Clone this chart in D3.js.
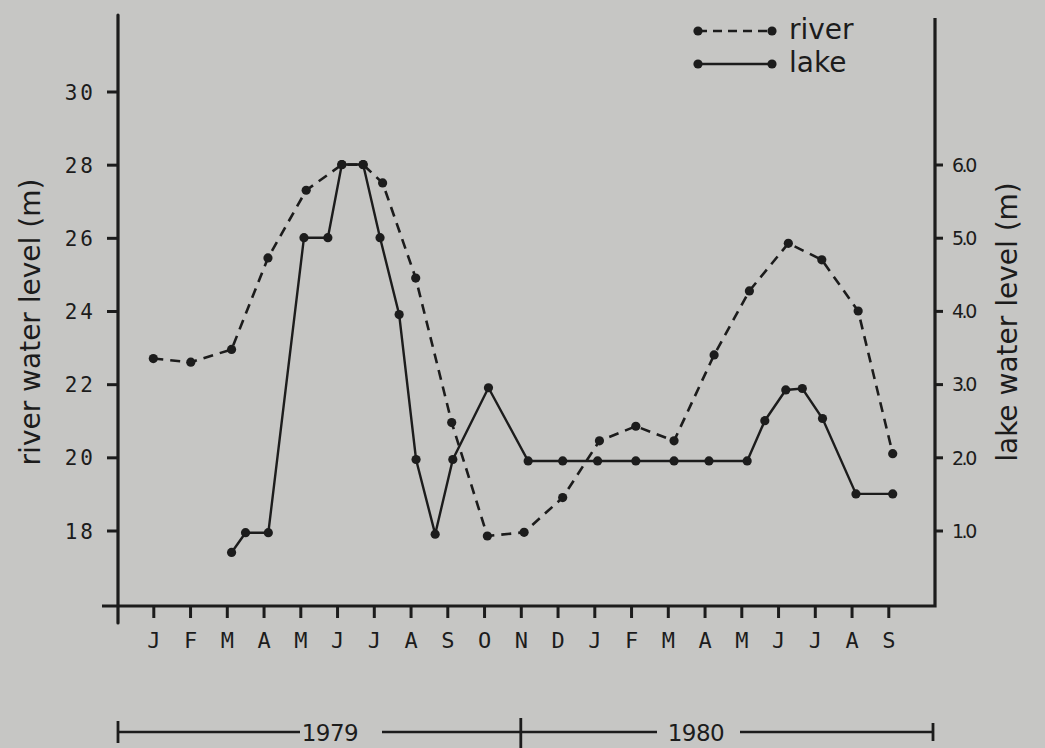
<!DOCTYPE html>
<html>
<head>
<meta charset="utf-8">
<script src="https://cdn.jsdelivr.net/npm/d3@7"></script>
<style>
  html, body { margin: 0; padding: 0; background: #c6c6c4; }
  svg { display: block; }
  .ink { stroke: #1c1c1c; fill: none; }
  text { fill: #1c1c1c; }
</style>
</head>
<body>
<script>
// Monthly water levels, Jan 1979 – Sep 1980.
// Time is given in months counted from the January 1979 tick.
const monthLabels = ["J","F","M","A","M","J","J","A","S","O","N","D",
                     "J","F","M","A","M","J","J","A","S"];
const riverTickValues = [18, 20, 22, 24, 26, 28, 30];
const lakeTickValues = [1, 2, 3, 4, 5, 6];
const years = ["1979", "1980"];

const riverTime  = [0, 1.02, 2.13, 3.12, 4.16, 5.13, 5.71, 6.24, 7.14, 8.12, 9.09,
                    10.09, 11.14, 12.14, 13.13, 14.17, 15.26, 16.22, 17.28, 18.19, 19.18, 20.12];
const riverLevel = [22.7, 22.6, 22.95, 25.45, 27.3, 28.0, 28.0, 27.5, 24.9, 20.95, 17.85,
                    17.95, 18.9, 20.45, 20.85, 20.45, 22.8, 24.55, 25.85, 25.4, 24.0, 20.1];

const lakeTime  = [2.13, 2.51, 3.13, 4.10, 4.75, 5.13, 5.71, 6.17, 6.69, 7.15, 7.67, 8.15, 9.12,
                   10.2, 11.14, 12.09, 13.13, 14.17, 15.12, 16.16, 16.64, 17.21, 17.66, 18.21, 19.12, 20.12];
const lakeLevel = [0.7, 0.97, 0.97, 5.0, 5.0, 6.0, 6.0, 5.0, 3.95, 1.97, 0.95, 1.97, 2.95,
                   1.95, 1.95, 1.95, 1.95, 1.95, 1.95, 1.95, 2.5, 2.92, 2.94, 2.53, 1.5, 1.5];

const W = 1045, H = 748;
const axisLeft = 118, axisRight = 935, axisBottom = 606, axisTop = 15;

const svg = d3.select("body").append("svg").attr("width", W).attr("height", H);

const x = d3.scaleLinear().domain([0, 20]).range([153.3, 888.3]);
const yRiver = d3.scaleLinear().domain([18, 30]).range([530.5, 91.5]);
const yLake = d3.scaleLinear().domain([1, 6]).range([530.5, 164.5]);

const sans = "'DejaVu Sans', sans-serif";
const mono = "'DejaVu Sans Mono', monospace";

// frame: left axis, bottom axis, right axis
svg.append("path").attr("class", "ink").attr("stroke-width", 3.2).attr("stroke-linecap", "round")
  .attr("d", `M${axisLeft},${axisTop} L${axisLeft},623`);
svg.append("path").attr("class", "ink").attr("stroke-width", 3.2).attr("stroke-linejoin", "miter")
  .attr("d", `M102,${axisBottom} L${axisRight},${axisBottom} L${axisRight},${axisTop + 3}`);

// left axis (river)
const gL = svg.append("g").attr("transform", `translate(${axisLeft},0)`)
  .call(d3.axisLeft(yRiver).tickValues(riverTickValues).tickSize(11).tickPadding(14).tickFormat(d3.format("d")));
gL.select(".domain").remove();
gL.selectAll(".tick line").attr("stroke", "#1c1c1c").attr("stroke-width", 3);
gL.selectAll(".tick text").attr("font-family", mono).attr("font-size", 21)
  .attr("letter-spacing", "3px").attr("dx", "3px").attr("dy", "0.36em").attr("fill", "#1c1c1c");

// right axis (lake)
const gR = svg.append("g").attr("transform", `translate(${axisRight},0)`)
  .call(d3.axisRight(yLake).tickValues(lakeTickValues).tickSize(8).tickPadding(9).tickFormat(d3.format(".1f")));
gR.select(".domain").remove();
gR.selectAll(".tick line").attr("stroke", "#1c1c1c").attr("stroke-width", 3);
gR.selectAll(".tick text").attr("font-family", sans).attr("font-size", 19)
  .attr("letter-spacing", "-2.5px").attr("dy", "0.36em").attr("fill", "#1c1c1c");

// bottom axis (months)
const gB = svg.append("g").attr("transform", `translate(0,${axisBottom})`)
  .call(d3.axisBottom(x).tickValues(d3.range(monthLabels.length)).tickSize(12).tickPadding(14)
    .tickFormat(i => monthLabels[i]));
gB.select(".domain").remove();
gB.selectAll(".tick line").attr("stroke", "#1c1c1c").attr("stroke-width", 3);
gB.selectAll(".tick text").attr("font-family", mono).attr("font-size", 22).attr("fill", "#1c1c1c");

// axis titles
svg.append("text").attr("transform", "translate(40,322) rotate(-90)")
  .attr("text-anchor", "middle").attr("font-family", sans).attr("font-size", 28)
  .text("river water level (m)");
svg.append("text").attr("transform", "translate(1017,322) rotate(-90)")
  .attr("text-anchor", "middle").attr("font-family", sans).attr("font-size", 28)
  .text("lake water level (m)");

// series
const river = riverTime.map((t, i) => [t, riverLevel[i]]);
const lake = lakeTime.map((t, i) => [t, lakeLevel[i]]);

svg.append("path").datum(river).attr("class", "ink").attr("stroke-width", 2.6)
  .attr("stroke-dasharray", "10,7")
  .attr("d", d3.line().x(d => x(d[0])).y(d => yRiver(d[1])));
svg.append("path").datum(lake).attr("class", "ink").attr("stroke-width", 2.4)
  .attr("d", d3.line().x(d => x(d[0])).y(d => yLake(d[1])));

svg.append("g").selectAll("circle").data(river).join("circle")
  .attr("cx", d => x(d[0])).attr("cy", d => yRiver(d[1])).attr("r", 4.6).attr("fill", "#1c1c1c");
svg.append("g").selectAll("circle").data(lake).join("circle")
  .attr("cx", d => x(d[0])).attr("cy", d => yLake(d[1])).attr("r", 4.6).attr("fill", "#1c1c1c");

// legend
const legend = [
  { name: "river", dash: "9,6", y: 31 },
  { name: "lake", dash: null, y: 64 }
];
const lg = svg.append("g");
legend.forEach(l => {
  lg.append("line").attr("class", "ink").attr("x1", 698).attr("x2", 772).attr("y1", l.y).attr("y2", l.y)
    .attr("stroke-width", 2.4).attr("stroke-dasharray", l.dash);
  lg.append("circle").attr("cx", 698).attr("cy", l.y).attr("r", 4.6).attr("fill", "#1c1c1c");
  lg.append("circle").attr("cx", 772).attr("cy", l.y).attr("r", 4.6).attr("fill", "#1c1c1c");
  lg.append("text").attr("x", 789).attr("y", l.y + 8).attr("font-family", sans).attr("font-size", 28)
    .text(l.name);
});

// year bar below the months
const yb = 732;
const split = x(10);
const bar = svg.append("g");
[[axisLeft, 300], [382, 657], [740, 933]].forEach(([a, b]) => {
  bar.append("line").attr("class", "ink").attr("x1", a).attr("x2", b).attr("y1", yb).attr("y2", yb).attr("stroke-width", 2.6);
});
[[axisLeft, 721, 743], [split, 718, 748], [933, 723, 741]].forEach(([px, a, b]) => {
  bar.append("line").attr("class", "ink").attr("x1", px).attr("x2", px).attr("y1", a).attr("y2", b).attr("stroke-width", 2.8);
});
bar.selectAll("text").data(years).join("text")
  .attr("x", (d, i) => i === 0 ? 330 : 696).attr("y", yb + 9)
  .attr("text-anchor", "middle").attr("font-family", sans).attr("font-size", 23)
  .attr("letter-spacing", "-0.5px").text(d => d);
</script>
</body>
</html>
